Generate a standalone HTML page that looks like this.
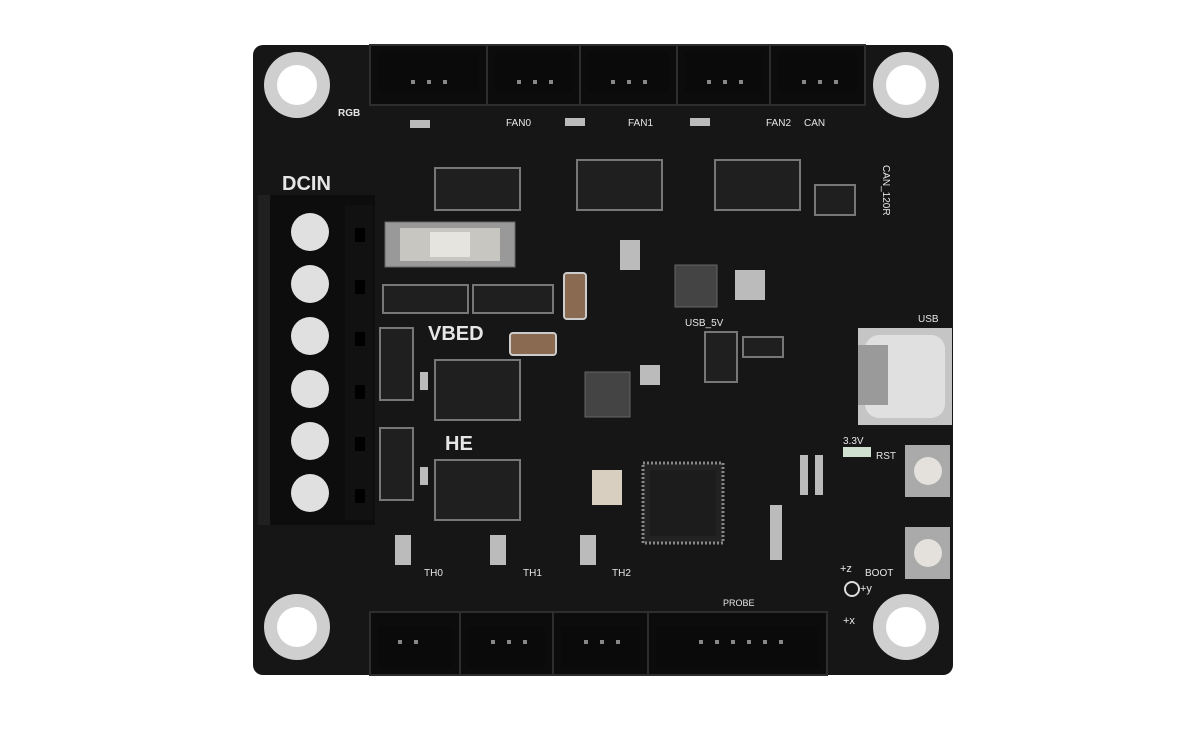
<!DOCTYPE html>
<html><head><meta charset="utf-8"><style>
body{margin:0;background:#fff;}
svg{display:block}
text{font-family:"Liberation Sans",sans-serif;fill:#e6e6e6}
</style></head><body>
<svg width="1200" height="742" viewBox="0 0 1200 742" xmlns="http://www.w3.org/2000/svg">
<rect width="1200" height="742" fill="#fff"/>
<rect x="253" y="45" width="700" height="630" rx="10" fill="#161616"/>
<!-- mounting holes -->
<g fill="#cfcfcf"><circle cx="297" cy="85" r="33"/><circle cx="906" cy="85" r="33"/><circle cx="297" cy="627" r="33"/><circle cx="906" cy="627" r="33"/></g>
<g fill="#fff"><circle cx="297" cy="85" r="20"/><circle cx="906" cy="85" r="20"/><circle cx="297" cy="627" r="20"/><circle cx="906" cy="627" r="20"/></g>
<!-- top connectors -->
<g fill="#0c0c0c" stroke="#2e2e2e" stroke-width="2">
<rect x="370" y="45" width="117" height="60"/><rect x="487" y="45" width="93" height="60"/><rect x="580" y="45" width="97" height="60"/><rect x="677" y="45" width="93" height="60"/><rect x="770" y="45" width="95" height="60"/>
<rect x="370" y="612" width="90" height="63"/><rect x="460" y="612" width="93" height="63"/><rect x="553" y="612" width="95" height="63"/><rect x="648" y="612" width="179" height="63"/>
</g>
<g fill="#0a0a0a"><rect x="378" y="52" width="101" height="40"/><rect x="495" y="52" width="77" height="40"/><rect x="588" y="52" width="81" height="40"/><rect x="685" y="52" width="77" height="40"/><rect x="778" y="52" width="79" height="40"/>
<rect x="378" y="626" width="74" height="42"/><rect x="468" y="626" width="77" height="42"/><rect x="561" y="626" width="79" height="42"/><rect x="656" y="626" width="163" height="42"/></g>
<g fill="#888">
<rect x="411" y="80" width="4" height="4"/><rect x="427" y="80" width="4" height="4"/><rect x="443" y="80" width="4" height="4"/>
<rect x="517" y="80" width="4" height="4"/><rect x="533" y="80" width="4" height="4"/><rect x="549" y="80" width="4" height="4"/>
<rect x="611" y="80" width="4" height="4"/><rect x="627" y="80" width="4" height="4"/><rect x="643" y="80" width="4" height="4"/>
<rect x="707" y="80" width="4" height="4"/><rect x="723" y="80" width="4" height="4"/><rect x="739" y="80" width="4" height="4"/>
<rect x="802" y="80" width="4" height="4"/><rect x="818" y="80" width="4" height="4"/><rect x="834" y="80" width="4" height="4"/>
<rect x="398" y="640" width="4" height="4"/><rect x="414" y="640" width="4" height="4"/>
<rect x="491" y="640" width="4" height="4"/><rect x="507" y="640" width="4" height="4"/><rect x="523" y="640" width="4" height="4"/>
<rect x="584" y="640" width="4" height="4"/><rect x="600" y="640" width="4" height="4"/><rect x="616" y="640" width="4" height="4"/>
<rect x="699" y="640" width="4" height="4"/><rect x="715" y="640" width="4" height="4"/><rect x="731" y="640" width="4" height="4"/><rect x="747" y="640" width="4" height="4"/><rect x="763" y="640" width="4" height="4"/><rect x="779" y="640" width="4" height="4"/>
</g>
<!-- DCIN terminal -->
<rect x="258" y="195" width="117" height="330" fill="#0d0d0d"/>
<rect x="258" y="195" width="12" height="330" fill="#202020"/>
<rect x="345" y="205" width="28" height="315" fill="#111"/>
<g fill="#e0e0e0"><circle cx="310" cy="232" r="19"/><circle cx="310" cy="284" r="19"/><circle cx="310" cy="336" r="19"/><circle cx="310" cy="389" r="19"/><circle cx="310" cy="441" r="19"/><circle cx="310" cy="493" r="19"/></g>
<g fill="#000"><rect x="355" y="228" width="10" height="14"/><rect x="355" y="280" width="10" height="14"/><rect x="355" y="332" width="10" height="14"/><rect x="355" y="385" width="10" height="14"/><rect x="355" y="437" width="10" height="14"/><rect x="355" y="489" width="10" height="14"/></g>
<text x="282" y="190" font-size="20" font-weight="bold">DCIN</text>
<text x="338" y="116" font-size="10" font-weight="bold">RGB</text>
<text x="506" y="126" font-size="10">FAN0</text>
<text x="628" y="126" font-size="10">FAN1</text>
<text x="766" y="126" font-size="10">FAN2</text>
<text x="804" y="126" font-size="10">CAN</text>
<text x="883" y="165" font-size="10" transform="rotate(90 883 165)">CAN_120R</text>
<text x="428" y="340" font-size="20" font-weight="bold">VBED</text>
<text x="445" y="450" font-size="20" font-weight="bold">HE</text>
<text x="685" y="326" font-size="10">USB_5V</text>
<text x="918" y="322" font-size="10">USB</text>
<text x="843" y="444" font-size="10">3.3V</text>
<text x="876" y="459" font-size="10">RST</text>
<text x="865" y="576" font-size="10">BOOT</text>
<text x="424" y="576" font-size="10">TH0</text>
<text x="523" y="576" font-size="10">TH1</text>
<text x="612" y="576" font-size="10">TH2</text>
<text x="723" y="606" font-size="9">PROBE</text>
<text x="840" y="572" font-size="11">+z</text>
<text x="860" y="592" font-size="11">+y</text>
<text x="843" y="624" font-size="11">+x</text>
<circle cx="852" cy="589" r="7" fill="none" stroke="#ddd" stroke-width="2"/>
<!-- fuse and parts -->
<rect x="385" y="222" width="130" height="45" fill="#999" stroke="#666"/>
<rect x="400" y="228" width="100" height="33" fill="#c8c6c0"/>
<rect x="430" y="232" width="40" height="25" fill="#e6e4de"/>
<g fill="#1f1f1f" stroke="#777" stroke-width="2">
<rect x="383" y="285" width="85" height="28"/><rect x="473" y="285" width="80" height="28"/>
<rect x="380" y="328" width="33" height="72"/><rect x="380" y="428" width="33" height="72"/>
<rect x="435" y="360" width="85" height="60"/><rect x="435" y="460" width="85" height="60"/>
<rect x="435" y="168" width="85" height="42"/><rect x="577" y="160" width="85" height="50"/><rect x="715" y="160" width="85" height="50"/>
<rect x="815" y="185" width="40" height="30"/><rect x="705" y="332" width="32" height="50"/><rect x="743" y="337" width="40" height="20"/>
</g>
<rect x="564" y="273" width="22" height="46" rx="3" fill="#8a6a50" stroke="#ccc" stroke-width="2"/>
<rect x="510" y="333" width="46" height="22" rx="3" fill="#8a6a50" stroke="#ccc" stroke-width="2"/>
<rect x="675" y="265" width="42" height="42" fill="#444" stroke="#666"/>
<rect x="585" y="372" width="45" height="45" fill="#444" stroke="#666"/>
<rect x="592" y="470" width="30" height="35" fill="#d8cfc0"/>
<!-- MCU -->
<rect x="643" y="463" width="80" height="80" fill="#222" stroke="#888" stroke-width="3" stroke-dasharray="2 2"/>
<rect x="650" y="470" width="66" height="66" fill="#1c1c1c"/>
<!-- USB-C -->
<rect x="858" y="328" width="94" height="97" fill="#c5c5c5"/>
<rect x="865" y="335" width="80" height="83" rx="14" fill="#e0e0e0"/>
<rect x="858" y="345" width="30" height="60" fill="#9a9a9a"/>
<!-- buttons -->
<rect x="905" y="445" width="45" height="52" fill="#aaa"/><circle cx="928" cy="471" r="14" fill="#e4e0dc"/>
<rect x="905" y="527" width="45" height="52" fill="#aaa"/><circle cx="928" cy="553" r="14" fill="#e4e0dc"/>
<rect x="843" y="447" width="28" height="10" fill="#cfe0d0"/>
<!-- small SMD bits -->
<g fill="#bbb">
<rect x="410" y="120" width="20" height="8"/><rect x="565" y="118" width="20" height="8"/><rect x="690" y="118" width="20" height="8"/>
<rect x="420" y="372" width="8" height="18"/><rect x="420" y="467" width="8" height="18"/>
<rect x="800" y="455" width="8" height="40"/><rect x="815" y="455" width="8" height="40"/>
<rect x="770" y="505" width="12" height="55"/><rect x="395" y="535" width="16" height="30"/><rect x="490" y="535" width="16" height="30"/><rect x="580" y="535" width="16" height="30"/>
<rect x="620" y="240" width="20" height="30"/><rect x="735" y="270" width="30" height="30"/><rect x="640" y="365" width="20" height="20"/>
</g>
</svg>
</body></html>
